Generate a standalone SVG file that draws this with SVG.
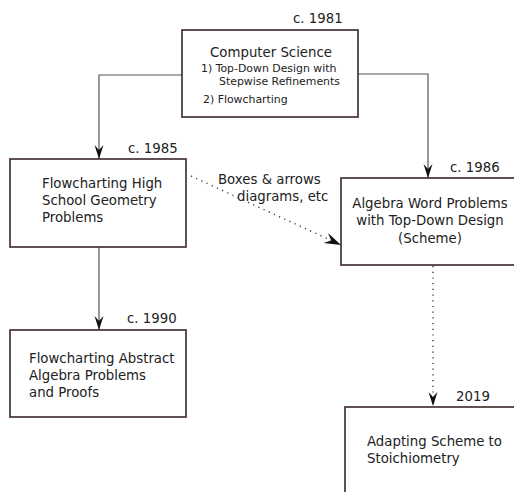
<svg xmlns="http://www.w3.org/2000/svg" width="514" height="492" viewBox="0 0 514 492">
<style>
.box{fill:#fff;stroke:#3a2626;stroke-width:1.6}
.t{font-family:"DejaVu Sans",Verdana,sans-serif;font-size:13.3px;fill:#222}
.s{font-family:"DejaVu Sans",Verdana,sans-serif;font-size:10.9px;fill:#222}
.c{fill:none;stroke:#555;stroke-width:1.2}
.d{fill:none;stroke:#444;stroke-width:1.5;stroke-dasharray:1.2 4.5}
</style>
<defs>
<marker id="ah" viewBox="0 0 14 10" refX="14" refY="5" markerWidth="14" markerHeight="10" markerUnits="userSpaceOnUse" orient="auto">
<path d="M0,0.5 L14,5 L0,9.5 L5,5 Z" fill="#111"/>
</marker>
<marker id="ahb" viewBox="0 0 14 10" refX="14" refY="5" markerWidth="17" markerHeight="12" markerUnits="userSpaceOnUse" orient="auto">
<path d="M0,0.5 L14,5 L0,9.5 L5,5 Z" fill="#111"/>
</marker>
</defs>
<rect width="514" height="492" fill="#fff"/>
<g id="connectors">
<path class="c" d="M182,75 H99 V159" marker-end="url(#ah)"/>
<path class="c" d="M358,74 H428 V178" marker-end="url(#ah)"/>
<path class="c" d="M99,247 V330" marker-end="url(#ah)"/>
<path class="d" d="M191,176 L341,245" marker-end="url(#ahb)"/>
<path class="d" d="M433,266 V406" marker-end="url(#ah)"/>
<text class="t" x="218" y="184">Boxes &amp; arrows</text>
<text class="t" x="237" y="201">diagrams, etc</text>
</g>
<g id="cs">
<rect class="box" x="182" y="30" width="176" height="87"/>
<text class="t" x="293" y="23">c. 1981</text>
<text class="t" x="271" y="57" text-anchor="middle">Computer Science</text>
<text class="s" x="201" y="72">1) Top-Down Design with</text>
<text class="s" x="219" y="85">Stepwise Refinements</text>
<text class="s" x="203" y="103">2) Flowcharting</text>
</g>
<g id="geometry">
<rect class="box" x="10" y="159" width="176" height="88"/>
<text class="t" x="128" y="153">c. 1985</text>
<text class="t" x="42" y="188">Flowcharting High</text>
<text class="t" x="42" y="205">School Geometry</text>
<text class="t" x="42" y="222">Problems</text>
</g>
<g id="abstract">
<rect class="box" x="10" y="330" width="176" height="87"/>
<text class="t" x="127" y="323">c. 1990</text>
<text class="t" x="29" y="363">Flowcharting Abstract</text>
<text class="t" x="29" y="380">Algebra Problems</text>
<text class="t" x="29" y="397">and Proofs</text>
</g>
<g id="algebra">
<rect class="box" x="341" y="178" width="190" height="87"/>
<text class="t" x="450" y="172">c. 1986</text>
<text class="t" x="430" y="208" text-anchor="middle">Algebra Word Problems</text>
<text class="t" x="430" y="225" text-anchor="middle">with Top-Down Design</text>
<text class="t" x="430" y="243" text-anchor="middle">(Scheme)</text>
</g>
<g id="stoich">
<rect class="box" x="345" y="407" width="190" height="100"/>
<text class="t" x="456" y="401">2019</text>
<text class="t" x="367" y="446">Adapting Scheme to</text>
<text class="t" x="367" y="463">Stoichiometry</text>
</g>
</svg>
